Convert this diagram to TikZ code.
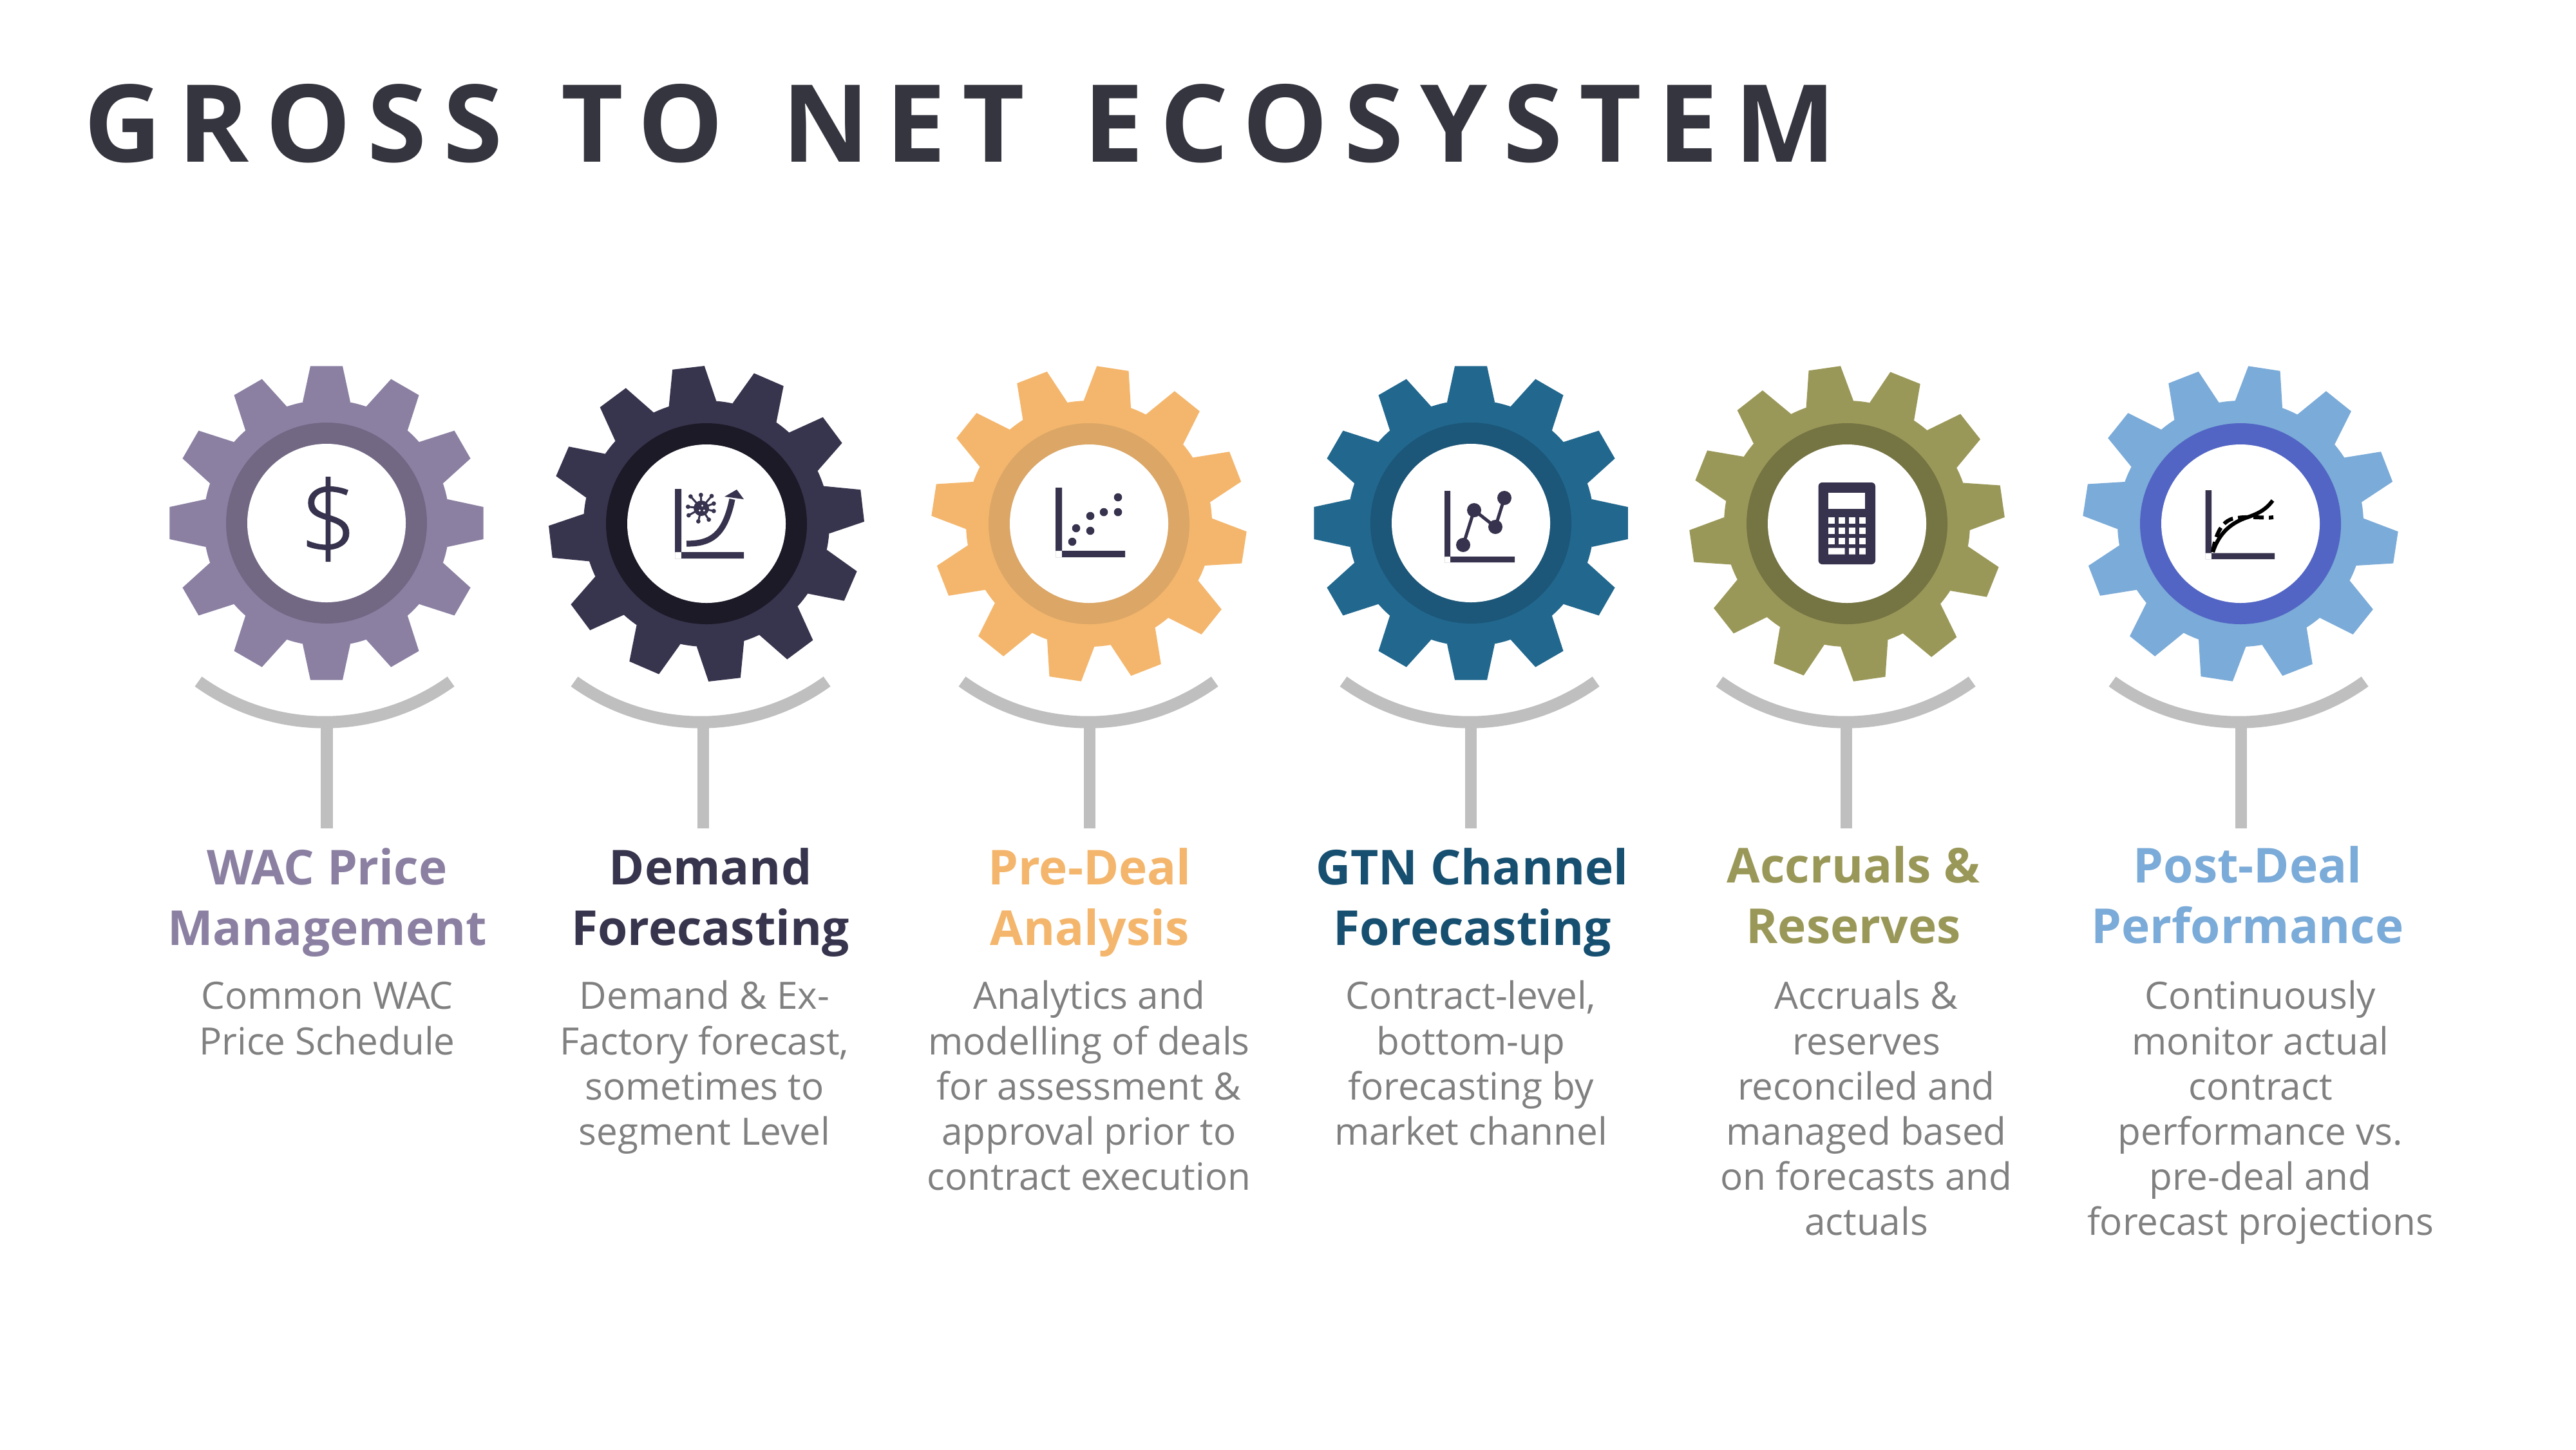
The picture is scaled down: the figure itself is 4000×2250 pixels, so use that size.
\documentclass[tikz,border=0pt]{standalone}
\usepackage{fontspec}
\setmainfont{Open Sans}
\newfontfamily\dollarfont[FakeBold=0.8]{Open Sans Light}
\definecolor{gearA}{HTML}{8B80A2}\definecolor{ringA}{HTML}{726884}
\definecolor{gearB}{HTML}{37344D}\definecolor{ringB}{HTML}{1C1A27}
\definecolor{gearC}{HTML}{F4B66C}\definecolor{ringC}{HTML}{DBA666}
\definecolor{gearD}{HTML}{21678E}\definecolor{ringD}{HTML}{1C5678}
\definecolor{gearE}{HTML}{9A9858}\definecolor{ringE}{HTML}{757443}
\definecolor{gearF}{HTML}{7BABD8}\definecolor{ringF}{HTML}{5265C4}
\definecolor{headD}{HTML}{164F70}
\definecolor{iconc}{HTML}{37324D}
\definecolor{titlec}{HTML}{35353F}
\definecolor{greyline}{HTML}{BFBFBF}
\definecolor{bodyc}{HTML}{808080}
\tikzset{
  headtxt/.style={anchor=north,inner sep=0pt,align=center,font=\fontsize{18.7}{23.3}\selectfont\bfseries},
  bodytxt/.style={anchor=north,inner sep=0pt,align=center,text=bodyc,font=\fontsize{14.6}{17.55}\selectfont},
  linkline/.style={draw=greyline,line width=4.7pt},
  axis/.style={fill=iconc},
}
\newcommand{\hs}{\rule{0pt}{20pt}}
\newcommand{\bs}{\rule{0pt}{15pt}}
% id, cx, cy, rot, gear, ring, arc cx, stem x
\newcommand{\gearunit}[8]{%
  \coordinate (g#1) at (#2,#3);
  \begin{scope}[shift={(#2,#3)},y=.25pt]
    \fill[#5] (0,0) circle (191);
    \foreach \i in {0,...,11}{%
      \pgfmathsetmacro\a{#4+30*\i}
      \fill[#5] (\a-11.2:191) -- (\a-5.85:245) -- (\a+5.85:245) -- (\a+11.2:191) -- cycle;
    }
    \fill[#6] (0,0) circle (156);
    \fill[white] (0,0) circle (123);
  \end{scope}
  \coordinate (as#1) at (#7-196,1058);
  \coordinate (ab#1) at (#8,1115);
  \coordinate (ae#1) at (#8,1286);
  \draw[linkline] (as#1) arc[start angle=125.7,end angle=54.3,radius=336];
  \draw[linkline] (ab#1) -- (ae#1);
}
\newcommand{\lbox}[5]{\fill[axis] (#1,#2) rectangle (#1+#3,#5) -- (#1,#5) rectangle (#4,#5-#3);}
\begin{document}
\begin{tikzpicture}[x=.25pt,y=-.25pt]
\useasboundingbox (0,0) rectangle (4000,2250);
\fill[white] (0,0) rectangle (4000,2250);
\node[anchor=base west,inner sep=0pt,text=titlec,font=\fontsize{41.75}{50}\selectfont\bfseries\addfontfeature{LetterSpace=15.2}] (title) at (130,251) {GROSS\hspace{5.6pt} TO\hspace{5.6pt} NET\hspace{5.6pt} ECOSYSTEM};

\gearunit{1}{507}{812}{0}{gearA}{ringA}{504}{507.6}
\gearunit{2}{1097}{813}{6.6}{gearB}{ringB}{1088}{1092}
\gearunit{3}{1691}{813}{-8.7}{gearC}{ringC}{1690}{1692}
\gearunit{4}{2284}{812}{0}{gearD}{ringD}{2282}{2284}
\gearunit{5}{2868}{813}{8.2}{gearE}{ringE}{2866}{2867}
\gearunit{6}{3479}{813}{-8.7}{gearF}{ringF}{3476}{3480}

% dollar
\node[inner sep=0pt,text=iconc,font=\fontsize{40}{48}\selectfont\dollarfont] (dollar) at (510,806) {\$};

% icon 2
\begin{scope}[shift={(g2)}]
  \lbox{-49}{-54}{10}{58}{54}
  \fill[iconc] (-8,-24) circle (12);
  \foreach \tx/\ty in {97/62,145/55,195/60,205/95,205/130,182/170,133/178,88/150,85/110}{
    \coordinate (vt) at ({\tx/3-57},{\ty/3-63});
    \draw[iconc,line width=.75pt] (-8,-24) -- (vt);
    \fill[iconc] (vt) circle (3.4);
  }
  \fill[white] (-6.5,-28) circle (1.6) (-10.5,-20.5) circle (1.6) (-3.7,-20.5) circle (1.6);
  \draw[iconc,line width=2.3pt] (-31,31) .. controls (5,31) and (28,20) .. (40,-38);
  \fill[iconc] (47,-53) -- (28,-42) -- (58,-38) -- cycle;
\end{scope}

% icon 3
\begin{scope}[shift={(g3)}]
  \lbox{-52}{-56}{10}{56}{52}
  \foreach \dx/\dy in {-26/28,-20/7,2/11,2/-12,23/-18,45/-18,45/-41}{
    \fill[iconc] (\dx,\dy) circle (6.3);
  }
\end{scope}

% icon 4
\begin{scope}[shift={(g4)}]
  \lbox{-41}{-50}{9}{68}{61}
  \draw[iconc,line width=1.25pt] (-12,34) -- (5,-20) -- (38,6) -- (52,-39);
  \fill[iconc] (-12,34) circle (11) (5,-20) circle (11) (38,6) circle (11) (52,-39) circle (11);
\end{scope}

% icon 5
\begin{scope}[shift={(g5)}]
  \fill[iconc,rounded corners=1.5pt] (-44.5,-64) rectangle (44,63);
  \fill[white] (-29,-48) rectangle (28,-23);
  \foreach \ry in {-10,6,22}{
    \foreach \rx in {-29,-13,3,19}{
      \fill[white] (\rx,\ry) rectangle (\rx+9.8,\ry+10);
    }
  }
  \fill[white] (-29,37.5) rectangle (-3.5,47.5) (3,37.5) rectangle (12.8,47.5) (19,37.5) rectangle (28.8,47.5);
\end{scope}

% icon 6
\begin{scope}[shift={(g6)}]
  \lbox{-54.5}{-52}{9.5}{53}{55}
  \draw[black,line width=1.5pt] (-43,44) .. controls (-35,20) and (-20,0) .. (11,-10) .. controls (25,-15) and (38,-20) .. (50,-36);
  \draw[black,line width=1.5pt,dash pattern=on 4pt off 2pt] (-43,44) .. controls (-38,10) and (-25,-8) .. (-5,-9) .. controls (15,-12) and (40,-8) .. (51,-10);
\end{scope}

% labels
\node[headtxt,text=gearA] (h1) at (508,1293) {\hs WAC Price\\Management};
\node[bodytxt] (b1) at (508,1506) {\bs Common WAC\\Price Schedule};
\node[headtxt,text=gearB] (h2) at (1103,1293) {\hs Demand\\Forecasting};
\node[bodytxt] (b2) at (1094,1506) {\bs Demand \& Ex-\\Factory forecast,\\sometimes to\\segment Level};
\node[headtxt,text=gearC] (h3) at (1692,1293) {\hs Pre-Deal\\Analysis};
\node[bodytxt] (b3) at (1691,1506) {\bs Analytics and\\modelling of deals\\for assessment \&\\approval prior to\\contract execution};
\node[headtxt,text=headD] (h4) at (2286,1293) {\hs GTN Channel\\Forecasting};
\node[bodytxt] (b4) at (2284,1506) {\bs Contract-level,\\bottom-up\\forecasting by\\market channel};
\node[headtxt,text=gearE] (h5) at (2878,1290) {\hs Accruals \&\\Reserves};
\node[bodytxt] (b5) at (2898,1506) {\bs Accruals \&\\reserves\\reconciled and\\managed based\\on forecasts and\\actuals};
\node[headtxt,text=gearF] (h6) at (3490,1290) {\hs Post-Deal\\Performance};
\node[bodytxt] (b6) at (3510,1506) {\bs Continuously\\monitor actual\\contract\\performance vs.\\pre-deal and\\forecast projections};
\end{tikzpicture}
\end{document}
